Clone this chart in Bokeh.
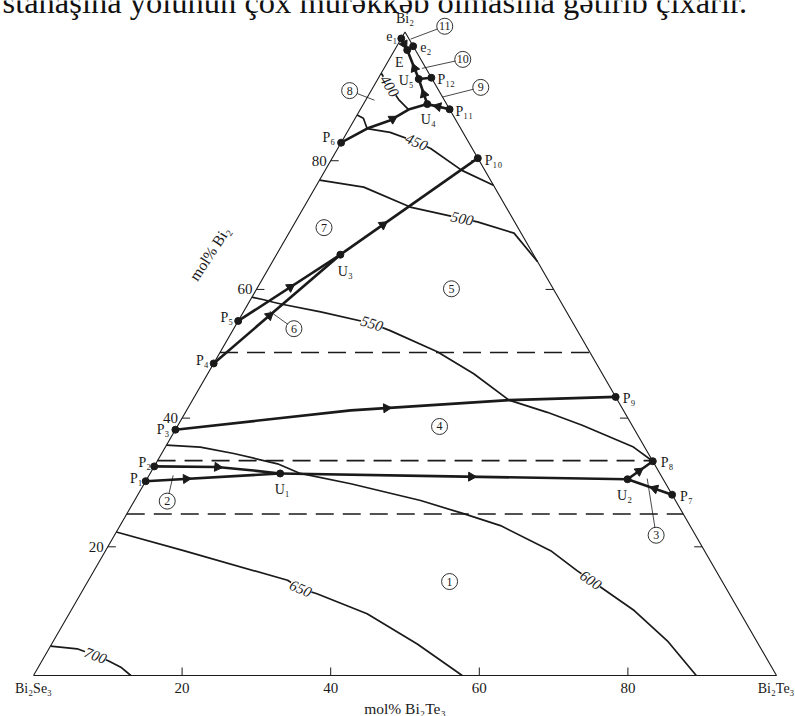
import math
from bokeh.plotting import figure
from bokeh.models import ColumnDataSource
from bokeh.core.properties import value
from bokeh.embed import file_html
from bokeh.resources import INLINE

# ---------------- data: compositions as (mol% Bi2Te3, mol% Bi2) ----------------
tick_values = [20, 40, 60, 80]
tick_labels = ["20", "40", "60", "80"]

corner_labels = ["Bi₂Se₃", "Bi₂Te₃", "Bi₂"]
corner_te = [0, 100, 0]
corner_bi = [0, 0, 100]

point_names = ["e1", "e2", "E", "U5", "P12", "U4", "P11", "P6", "P10", "U3",
               "P5", "P4", "P3", "P2", "P1", "U1", "U2", "P8", "P7", "P9"]
point_labels = ["e₁", "e₂", "E", "U₅", "P₁₂", "U₄", "P₁₁", "P₆", "P₁₀", "U₃",
                "P₅", "P₄", "P₃", "P₂", "P₁", "U₁", "U₂", "P₈", "P₇", "P₉"]
point_te = [0.0, 2.2, 1.7, 5.5, 7.1, 8.6, 12.0, 0.0, 19.6, 8.6,
            0.0, 0.0, 0.0, 0.0, 0.0, 17.5, 64.7, 66.7, 71.9, 56.7]
point_bi = [99.0, 97.8, 97.2, 92.7, 92.9, 88.8, 88.0, 82.8, 80.4, 65.4,
            55.1, 48.5, 38.2, 32.5, 30.2, 31.4, 30.5, 33.3, 28.1, 43.3]
# label placement (screen px) relative to each point
point_lbl_align = ["right", "left", "center", "right", "left", "center", "left", "right", "left", "center",
                   "right", "right", "right", "right", "right", "center", "center", "left", "left", "left"]
point_lbl_dx = [-4, 7, -8, -5, 6, 1, 6, -6, 7, 5, -5, -5, -6, -3, -3, 2, -3, 8, 8, 7]
point_lbl_dy = [-2, 1, 12, 1, 2, 15, 2, -5, 2, 17, -3, -3, 0, -4, -3, 16, 16, 1, 2, 2]

# univariant (crystallization) paths: point names or intermediate compositions
path_P1_U1 = ["P1", "U1"]
path_P2_U1 = ["P2", (8.5, 32.4), (13.3, 31.9), "U1"]
path_U1_U2 = ["U1", (40.6, 30.95), "U2"]
path_U2_P8 = ["U2", "P8"]
path_P7_U2 = ["P7", "U2"]
path_P3_P9 = ["P3", (22.1, 41.2), (42.6, 42.8), "P9"]
path_P4_U3 = ["P4", "U3"]
path_P5_U3 = ["P5", "U3"]
path_U3_P10 = ["U3", "P10"]
path_P6_U4 = ["P6", (2.4, 85.0), (4.9, 86.3), (6.5, 87.95), "U4"]
path_P11_U4 = ["P11", "U4"]
path_U4_U5 = ["U4", "U5"]
path_P12_U5 = ["P12", "U5"]
path_U5_E = ["U5", "E"]
path_e1_E = ["e1", "E"]
path_e2_E = ["e2", "E"]

# arrows: (path, fraction of its length)
arrows = [(path_P1_U1, 0.30), (path_P2_U1, 0.50), (path_U1_U2, 0.55), (path_U2_P8, 0.45),
          (path_P7_U2, 0.39), (path_P3_P9, 0.48), (path_P4_U3, 0.44), (path_P5_U3, 0.51),
          (path_U3_P10, 0.31), (path_P6_U4, 0.60), (path_P11_U4, 0.52), (path_U4_U5, 0.40),
          (path_U5_E, 0.37), (path_e1_E, 0.50)]

# isotherms (°C)
iso_400 = [(0.0, 93.6), (2.1, 91.6), (4.4, 89.5), (6.5, 87.95)]
iso_450 = [(0.0, 87.1), (1.1, 86.6), (2.4, 85.0), (5.8, 84.4), (10.1, 82.9), (12.5, 81.9),
           (18.4, 78.5), (23.8, 76.2)]
iso_500 = [(0.0, 77.0), (6.5, 75.9), (14.3, 72.8), (22.2, 71.0), (24.5, 70.5), (30.3, 68.75),
           (35.7, 64.3)]
iso_550 = [(0.0, 58.8), (1.8, 58.4), (3.3, 58.0), (4.6, 57.7), (10.4, 56.5), (18.2, 54.7),
           (21.2, 53.6), (29.2, 50.3), (35.8, 46.9), (42.6, 42.8), (48.7, 40.9), (54.4, 38.9),
           (63.0, 35.5), (66.7, 33.3)]
iso_600 = [(0.0, 35.8), (4.7, 35.5), (9.7, 34.5), (16.4, 32.9), (20.2, 31.4), (27.8, 29.8),
           (38.5, 27.2), (45.3, 25.15), (51.2, 23.3), (59.9, 19.4), (65.0, 16.3), (67.6, 14.8),
           (75.8, 10.1), (82.6, 5.4), (89.2, 0.0)]
iso_650 = [(0.0, 22.3), (10.5, 19.4), (26.8, 14.8), (29.2, 13.5), (31.8, 12.7), (40.1, 9.6),
           (49.2, 4.9), (57.7, 0.0)]
iso_700 = [(0.0, 4.56), (3.8, 4.15), (6.8, 3.1), (8.9, 2.3), (11.1, 1.3), (13.1, 0.0)]

iso_lbl_text = ["400", "450", "500", "550", "600", "650", "700"]
iso_lbl_te = [2.1, 10.1, 22.2, 18.2, 67.6, 29.2, 6.8]
iso_lbl_bi = [91.6, 82.9, 71.0, 54.7, 14.8, 13.5, 3.1]
iso_lbl_angle = [-58, -24, -13, -17, -34, -24, -21]

# dashed horizontal lines (constant mol% Bi2)
dashed_bi = [50.2, 33.4, 25.1]

# numbered phase fields
region_numbers = ["1", "2", "3", "4", "5", "6", "7", "8", "9", "10", "11"]
region_te = [48.7, 4.45, 72.9, 35.3, 26.2, 8.1, 4.3, -2.9, 14.5, 9.9, 4.9]
region_bi = [14.6, 27.1, 21.8, 38.7, 60.1, 53.9, 69.6, 90.9, 91.4, 95.75, 100.9]
leader_te = [None, 3.25, 67.3, None, None, 3.5, None, 1.2, 10.1, 5.1, 1.3]
leader_bi = [None, 31.1, 30.6, None, None, 56.6, None, 89.4, 89.9, 94.35, 98.9]

axis_title_bottom = "mol% Bi₂Te₃"
axis_title_left = "mol% Bi₂"
left_title_te, left_title_bi = -9.1, 65.6
page_text = "stanaşına yolunun çox mürəkkəb olmasına gətirib çıxarır."

# ---------------- helpers ----------------
H = math.sqrt(3) / 2
pt = dict(zip(point_names, zip(point_te, point_bi)))


def comp(p):
    return pt[p] if isinstance(p, str) else p


def to_xy(te, bi):
    return te + bi / 2.0, bi * H


def path_xy(path):
    cs = [to_xy(*comp(p)) for p in path]
    return [c[0] for c in cs], [c[1] for c in cs]


def along(path, frac):
    xs, ys = path_xy(path)
    seg = [math.hypot(xs[i + 1] - xs[i], ys[i + 1] - ys[i]) for i in range(len(xs) - 1)]
    target = frac * sum(seg)
    acc = 0.0
    for i, L in enumerate(seg):
        if acc + L >= target or i == len(seg) - 1:
            f = (target - acc) / L
            return (xs[i] + f * (xs[i + 1] - xs[i]), ys[i] + f * (ys[i + 1] - ys[i]),
                    math.atan2(ys[i + 1] - ys[i], xs[i + 1] - xs[i]))
        acc += L


SCALE = 7.43  # px per unit
W, HGT = 795, 716
x0 = -33 / SCALE
y1 = 675 / SCALE
p = figure(width=W, height=HGT, x_range=(x0, x0 + W / SCALE), y_range=(y1 - HGT / SCALE, y1),
           output_backend="svg", toolbar_location=None, min_border=0,
           x_axis_type=None, y_axis_type=None)
p.outline_line_color = None
p.background_fill_color = "white"
p.border_fill_color = "white"

FONT = value("Liberation Serif")
INK = "#1a1a1a"
TL = 8 / SCALE

# page text of the scan, cut at the top edge as in the source
p.text([x0 + 2 / SCALE], [y1 - 1.5 / SCALE], text=[page_text], text_font=FONT,
       text_font_size="32.5px", text_color="#111", text_align="left", text_baseline="middle")

# triangle
tx, ty = zip(*[to_xy(t, b) for t, b in zip(corner_te + corner_te[:1], corner_bi + corner_bi[:1])])
p.line(list(tx), list(ty), line_color=INK, line_width=1.1)

# ticks
for v in tick_values:
    bx, by = to_xy(v, 0)
    p.line([bx, bx], [by, by + TL], line_color=INK, line_width=1)
    lx, ly = to_xy(0, v)
    p.line([lx, lx + TL], [ly, ly], line_color=INK, line_width=1)
    rx, ry = to_xy(100 - v, v)
    p.line([rx, rx - TL], [ry, ry], line_color=INK, line_width=1)

bsrc = ColumnDataSource(dict(x=[to_xy(v, 0)[0] for v in tick_values], y=[0] * 4, t=tick_labels))
p.text("x", "y", text="t", source=bsrc, text_font=FONT, text_font_size="15px", text_color=INK,
       text_align="center", text_baseline="top", y_offset=7)
lsrc = ColumnDataSource(dict(x=[to_xy(0, v)[0] for v in tick_values],
                             y=[to_xy(0, v)[1] for v in tick_values], t=tick_labels))
p.text("x", "y", text="t", source=lsrc, text_font=FONT, text_font_size="15px", text_color=INK,
       text_align="right", text_baseline="middle", x_offset=-4)

# dashed lines
for b in dashed_bi:
    (ax, ay), (bx_, by_) = to_xy(0, b), to_xy(100 - b, b)
    p.line([ax, bx_], [ay, by_], line_color=INK, line_width=1.6, line_dash="18 9")

# isotherms
for iso in [iso_400, iso_450, iso_500, iso_550, iso_600, iso_650, iso_700]:
    xs, ys = path_xy(iso)
    p.line(xs, ys, line_color=INK, line_width=1.7)

isrc = ColumnDataSource(dict(
    x=[to_xy(t, b)[0] for t, b in zip(iso_lbl_te, iso_lbl_bi)],
    y=[to_xy(t, b)[1] for t, b in zip(iso_lbl_te, iso_lbl_bi)],
    t=iso_lbl_text, a=[math.radians(a) for a in iso_lbl_angle]))
p.text("x", "y", text="t", angle="a", source=isrc, text_font=FONT, text_font_size="15px",
       text_font_style="italic", text_color=INK, text_align="center", text_baseline="middle",
       background_fill_color="white")

# crystallization paths
all_paths = [path_P1_U1, path_P2_U1, path_U1_U2, path_U2_P8, path_P7_U2, path_P3_P9, path_P4_U3,
             path_P5_U3, path_U3_P10, path_P6_U4, path_P11_U4, path_U4_U5, path_P12_U5, path_U5_E,
             path_e1_E, path_e2_E]
for pa in all_paths:
    xs, ys = path_xy(pa)
    p.line(xs, ys, line_color=INK, line_width=2.6)

# arrows
ax_, ay_, aa_ = [], [], []
for pa, f in arrows:
    x, y, a = along(pa, f)
    ax_.append(x); ay_.append(y); aa_.append(a - math.pi / 2)
p.scatter(ax_, ay_, marker="triangle", size=9, angle=aa_, fill_color=INK, line_color=INK)

# leaders and numbered circles
for rt, rb, lt, lb in zip(region_te, region_bi, leader_te, leader_bi):
    if lt is not None:
        (cx, cy), (ex, ey) = to_xy(rt, rb), to_xy(lt, lb)
        p.line([cx, ex], [cy, ey], line_color=INK, line_width=0.8)
rsrc = ColumnDataSource(dict(
    x=[to_xy(t, b)[0] for t, b in zip(region_te, region_bi)],
    y=[to_xy(t, b)[1] for t, b in zip(region_te, region_bi)], t=region_numbers))
p.scatter("x", "y", source=rsrc, marker="circle", size=16, fill_color="white",
          line_color=INK, line_width=0.9)
p.text("x", "y", text="t", source=rsrc, text_font=FONT, text_font_size="12px", text_color=INK,
       text_align="center", text_baseline="middle")

# invariant points
psrc = ColumnDataSource(dict(
    x=[to_xy(t, b)[0] for t, b in zip(point_te, point_bi)],
    y=[to_xy(t, b)[1] for t, b in zip(point_te, point_bi)],
    t=point_labels, al=point_lbl_align, dx=point_lbl_dx, dy=point_lbl_dy))
p.scatter("x", "y", source=psrc, marker="circle", size=7, fill_color=INK, line_color=INK)
p.text("x", "y", text="t", source=psrc, text_font=FONT, text_font_size="14px", text_color=INK,
       text_align="al", text_baseline="middle", x_offset="dx", y_offset="dy")

# corner labels
csrc = ColumnDataSource(dict(
    x=[to_xy(t, b)[0] for t, b in zip(corner_te, corner_bi)],
    y=[to_xy(t, b)[1] for t, b in zip(corner_te, corner_bi)],
    t=corner_labels, al=["center", "right", "center"], dx=[0, 18, 0], dy=[13, 13, -14]))
p.text("x", "y", text="t", source=csrc, text_font=FONT, text_font_size="14px", text_color=INK,
       text_align="al", text_baseline="middle", x_offset="dx", y_offset="dy")

# axis titles
bt = to_xy(50, 0)
p.text([bt[0]], [bt[1]], text=[axis_title_bottom], text_font=FONT, text_font_size="15.5px",
       text_color=INK, text_align="center", text_baseline="middle", y_offset=33)
lt_ = to_xy(left_title_te, left_title_bi)
p.text([lt_[0]], [lt_[1]], text=[axis_title_left], angle=math.radians(57), text_font=FONT,
       text_font_size="15.5px", text_color=INK, text_align="center", text_baseline="middle")

open("out.html", "w").write(file_html(p, INLINE))
